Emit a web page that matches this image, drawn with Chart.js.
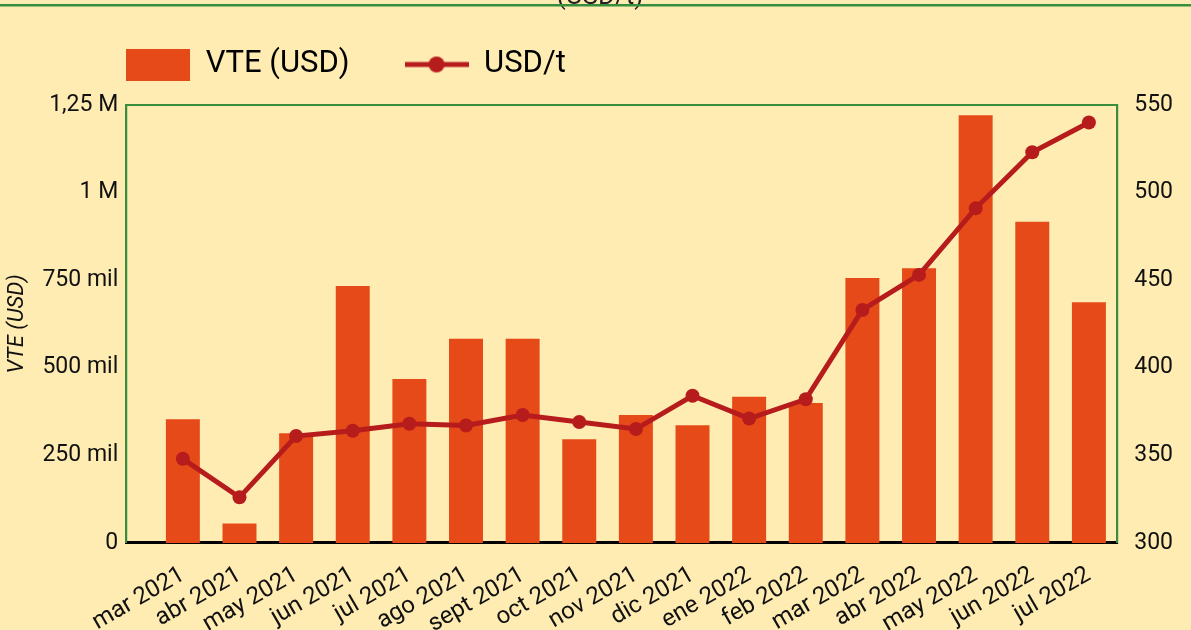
<!DOCTYPE html>
<html>
<head>
<meta charset="utf-8">
<script src="https://cdn.jsdelivr.net/npm/chart.js@4/dist/chart.umd.min.js"></script>
<style>
  html, body { margin: 0; padding: 0; background: #FFECB3; }
  #wrap { position: relative; width: 1191px; height: 630px; }
</style>
</head>
<body>
<div id="wrap"><canvas id="chart"></canvas></div>
<script>
// months shown on the x axis
const months = ['mar 2021', 'abr 2021', 'may 2021', 'jun 2021', 'jul 2021', 'ago 2021',
  'sept 2021', 'oct 2021', 'nov 2021', 'dic 2021', 'ene 2022', 'feb 2022',
  'mar 2022', 'abr 2022', 'may 2022', 'jun 2022', 'jul 2022'];

// VTE (USD), bars on the left axis
const vte = [353000, 55000, 313000, 733000, 468000, 583000, 583000, 296000, 365000,
  336000, 417000, 399000, 756000, 784000, 1221000, 917000, 687000];

// USD/t, line on the right axis
const usdT = [348, 326, 361, 364, 368, 367, 373, 369, 365, 384, 371, 382, 433, 453, 491, 523, 540];

// left axis tick labels
const leftTicks = { 0: '0', 250000: '250 mil', 500000: '500 mil', 750000: '750 mil', 1000000: '1 M', 1250000: '1,25 M' };

const BAR = '#E64A19';
const LINE = '#B71C1C';
const GREEN = '#388E3C';

// legend icons (drawn once, used as point styles)
function barIcon() {
  const c = document.createElement('canvas');
  c.width = 64; c.height = 32;
  const g = c.getContext('2d');
  g.fillStyle = BAR;
  g.fillRect(0, 0, 64, 32);
  return c;
}
function lineIcon() {
  const c = document.createElement('canvas');
  c.width = 64; c.height = 32;
  const g = c.getContext('2d');
  g.strokeStyle = LINE;
  g.lineWidth = 5;
  g.beginPath(); g.moveTo(0, 16); g.lineTo(64, 16); g.stroke();
  g.fillStyle = LINE;
  g.beginPath(); g.arc(32, 16, 8, 0, Math.PI * 2); g.fill();
  return c;
}

const frame = {
  id: 'frame',
  afterLayout(chart) {
    // move legend to sit over the plot's left edge
    chart.legend.left = chart.chartArea.left - 55;
    chart.legend.top = -6;
  },
  beforeDraw(chart) {
    const ctx = chart.ctx, a = chart.chartArea;
    ctx.save();
    // clipped heading of the block above
    ctx.fillStyle = '#222';
    ctx.font = '26px Roboto';
    ctx.textAlign = 'center';
    ctx.textBaseline = 'alphabetic';
    ctx.fillText('(USD/t)', 600, 4);
    ctx.fillStyle = GREEN;
    ctx.fillRect(0, 4, chart.width, 2.5);
    // plot frame
    ctx.strokeStyle = GREEN;
    ctx.lineWidth = 2;
    ctx.strokeRect(a.left, a.top, a.right - a.left, a.bottom - a.top);
    ctx.restore();
  }
};

new Chart(document.getElementById('chart'), {
  type: 'bar',
  data: {
    datasets: [
      {
        type: 'bar',
        label: 'VTE (USD)',
        data: vte.map((v, i) => ({ x: i, y: v })),
        backgroundColor: BAR,
        yAxisID: 'y',
        categoryPercentage: 1,
        barPercentage: 0.6,
        order: 1
      },
      {
        type: 'line',
        label: 'USD/t',
        data: usdT.map((v, i) => ({ x: i, y: v })),
        borderColor: LINE,
        backgroundColor: LINE,
        borderWidth: 5,
        pointRadius: 7,
        pointBackgroundColor: LINE,
        pointBorderWidth: 0,
        yAxisID: 'y1',
        tension: 0,
        order: 0
      }
    ]
  },
  options: {
    responsive: true,
    maintainAspectRatio: false,
    animation: false,
    layout: { padding: { left: 0, right: 1, top: 9, bottom: -27 } },
    plugins: {
      title: { display: false },
      tooltip: { enabled: false },
      legend: {
        position: 'top',
        align: 'start',
        labels: {
          usePointStyle: true,
          pointStyleWidth: 64,
          padding: 55,
          color: '#111',
          font: { family: 'Roboto', size: 31 },
          generateLabels: () => [
            { text: 'VTE (USD)', pointStyle: barIcon(), datasetIndex: 0, fillStyle: BAR, strokeStyle: BAR, lineWidth: 0, hidden: false },
            { text: 'USD/t', pointStyle: lineIcon(), datasetIndex: 1, fillStyle: LINE, strokeStyle: LINE, lineWidth: 0, hidden: false }
          ]
        }
      }
    },
    scales: {
      x: {
        type: 'linear',
        offset: false,
        min: -1,
        max: 16.5,
        grid: { display: false, drawTicks: false },
        border: { display: true, color: '#000', width: 3 },
        ticks: {
          stepSize: 1,
          includeBounds: false,
          autoSkip: false,
          minRotation: 30,
          maxRotation: 30,
          padding: 18,
          color: '#111',
          font: { family: 'Roboto', size: 24 },
          callback: v => months[v] ?? ''
        }
      },
      y: {
        position: 'left',
        min: 0,
        max: 1250000,
        grid: { display: false, drawTicks: false },
        border: { display: true, color: GREEN, width: 2 },
        title: {
          display: true,
          text: 'VTE (USD)',
          color: '#111',
          font: { family: 'Roboto', size: 22, style: 'italic' }
        },
        ticks: {
          stepSize: 250000,
          padding: 8,
          color: '#111',
          font: { family: 'Roboto', size: 23 },
          callback: v => leftTicks[v] ?? ''
        }
      },
      y1: {
        position: 'right',
        min: 300,
        max: 550,
        grid: { display: false, drawTicks: false },
        border: { display: true, color: GREEN, width: 2 },
        ticks: {
          stepSize: 50,
          padding: 17,
          color: '#111',
          font: { family: 'Roboto', size: 23 }
        }
      }
    }
  },
  plugins: [frame]
});
</script>
</body>
</html>
